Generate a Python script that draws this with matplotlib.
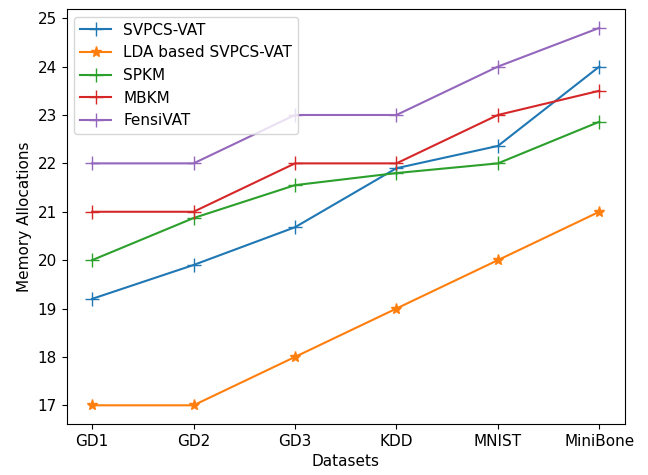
import matplotlib
matplotlib.use("Agg")
import matplotlib.pyplot as plt

datasets = ["GD1", "GD2", "GD3", "KDD", "MNIST", "MiniBone"]
svpcs_vat = [19.2, 19.9, 20.68, 21.9, 22.36, 24.0]
lda_svpcs_vat = [17, 17, 18, 19, 20, 21]
spkm = [20.0, 20.87, 21.55, 21.8, 22.0, 22.86]
mbkm = [21, 21, 22, 22, 23, 23.5]
fensivat = [22, 22, 23, 23, 24, 24.8]

plt.rcParams["font.size"] = 11

fig = plt.figure(figsize=(6.48, 4.75), dpi=100)
ax = fig.add_axes([0.103, 0.107, 0.861, 0.874])

ax.plot(datasets, svpcs_vat, marker="+", markersize=10, label="SVPCS-VAT")
ax.plot(datasets, lda_svpcs_vat, marker="*", markersize=8, label="LDA based SVPCS-VAT")
ax.plot(datasets, spkm, marker="+", markersize=10, label="SPKM")
ax.plot(datasets, mbkm, marker="+", markersize=10, label="MBKM")
ax.plot(datasets, fensivat, marker="+", markersize=10, label="FensiVAT")

ax.set_xlabel("Datasets")
ax.set_ylabel("Memory Allocations")
ax.legend(loc="upper left")

fig.savefig("out.png", dpi=100)
